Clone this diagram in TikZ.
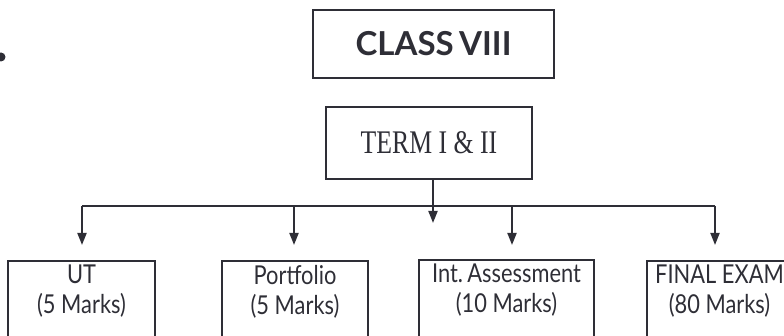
\documentclass[tikz,border=0pt]{standalone}
\usepackage{fontspec}
\setmainfont{Liberation Serif}
\newfontfamily\gillish[FakeStretch=0.84]{Lato}
\newfontfamily\gillbold{Lato}
\newfontfamily\termfont[FakeStretch=0.78]{Liberation Serif}
\usetikzlibrary{arrows.meta}
\definecolor{ink}{HTML}{2E2E36}
\tikzset{
  boxline/.style={draw=ink, line width=1.8pt},
  bigbox/.style={boxline, inner sep=0pt},
  lowbox/.style={boxline, inner sep=0pt, anchor=north, minimum height=90pt},
  lowtext/.style={anchor=north, align=center, text=ink, inner sep=0pt,
    font=\gillish\fontsize{26}{30}\selectfont},
  conn/.style={draw=ink, line width=1.8pt},
  arr/.style={conn, -{Triangle[width=9pt,length=12pt]}},
}
\begin{document}
\begin{tikzpicture}[x=1pt,y=1pt]
\useasboundingbox (0,0) rectangle (784,336);
\clip (0,0) rectangle (784,336);
% bullet at left edge
\fill[ink] (1,279) circle (4.5);
% top boxes
\node[bigbox, minimum width=241pt, minimum height=68pt, text=ink,
  font=\gillbold\bfseries\fontsize{33}{38}\selectfont] (cls) at (433.5,292) {CLASS\,VIII};
\node[bigbox, minimum width=206pt, minimum height=72pt, text=ink,
  font=\termfont\fontsize{33}{38}\selectfont] (term) at (429,193) {TERM I \& II};
% bottom boxes
\node[lowbox, minimum width=147pt] (ut) at (81.5,76) {};
\node[lowbox, minimum width=146pt] (pf) at (295,76) {};
\node[lowbox, minimum width=175pt] (ia) at (506.5,77) {};
\node[lowbox, minimum width=150pt] (fe) at (722,76) {};
\node[lowtext] (utt) at ([yshift=-5pt]ut.north) {UT\\(5 Marks)};
\node[lowtext] (pft) at ([yshift=-5pt]pf.north) {Portfolio\\(5 Marks)};
\node[lowtext] (iat) at ([yshift=-5pt]ia.north) {Int.\,Assessment\\(10 Marks)};
\node[lowtext] (fet) at (719.5,71) {FINAL EXAM\\(80 Marks)};
% connectors
\coordinate (busL) at (82,130);
\coordinate (busR) at (715,130);
\coordinate (cTip) at (433,113);
\coordinate (utTip) at (82,91);
\coordinate (pfTip) at (294,91);
\coordinate (iaTip) at (512,91);
\coordinate (feTip) at (715,91);
\draw[conn] (busL) -- (busR);
\draw[arr] (term.south -| cTip) -- (cTip);
\draw[arr] (busL) -- (utTip);
\draw[arr] (pfTip |- busL) -- (pfTip);
\draw[arr] (iaTip |- busL) -- (iaTip);
\draw[arr] (busR) -- (feTip);
\end{tikzpicture}
\end{document}
